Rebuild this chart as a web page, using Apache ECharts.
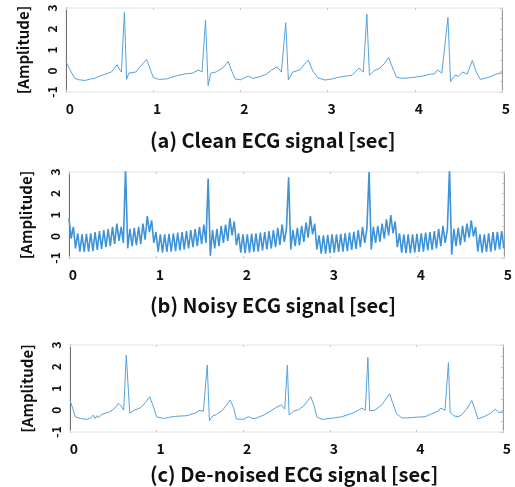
<!DOCTYPE html>
<html>
<head>
<meta charset="utf-8">
<script src="https://cdn.jsdelivr.net/npm/echarts@6/dist/echarts.min.js"></script>
<style>
  html, body { margin: 0; padding: 0; background: #fff; }
  #ecg_ref { width: 515px; height: 487px; }
</style>
</head>
<body>
<div id="ecg_ref"></div>
<script>
// 坐标轴刻度
const xTicks = [0, 1, 2, 3, 4, 5]
const yTicks = [-1, 0, 1, 2, 3]
const panelTitles = [
  '(a) Clean ECG signal [sec]',
  '(b) Noisy ECG signal [sec]',
  '(c) De-noised ECG signal [sec]'
]
const yName = '[Amplitude]'

// (a) clean signal, [time, amplitude]
const cleanSignal = [
  [0, 0.45], [0.04, 0.1], [0.1, -0.35], [0.15, -0.42], [0.22, -0.45], [0.28, -0.38],
  [0.33, -0.35], [0.38, -0.25], [0.45, -0.15], [0.52, -0.05], [0.56, 0.15], [0.585, 0.3],
  [0.61, 0.1], [0.635, -0.05], [0.67, 2.8], [0.695, -0.4], [0.72, -0.1], [0.8, -0.05],
  [0.86, 0.25], [0.925, 0.55], [0.96, 0.15], [1.0, -0.3], [1.06, -0.4], [1.15, -0.38],
  [1.25, -0.25], [1.35, -0.15], [1.45, -0.1], [1.52, 0.05], [1.56, -0.05], [1.6, 2.43],
  [1.63, -0.7], [1.66, -0.1], [1.72, -0.05], [1.8, 0.15], [1.86, 0.45], [1.9, 0.0],
  [1.94, -0.38], [2.0, -0.42], [2.09, -0.24], [2.14, -0.35], [2.2, -0.3], [2.3, -0.15],
  [2.36, 0.05], [2.42, 0.2], [2.47, -0.05], [2.52, 2.3], [2.55, -0.43], [2.6, -0.05],
  [2.68, 0.05], [2.73, 0.3], [2.78, 0.52], [2.83, 0.0], [2.89, -0.33], [2.97, -0.43],
  [3.05, -0.38], [3.12, -0.3], [3.2, -0.25], [3.28, -0.2], [3.36, 0.14], [3.41, -0.05],
  [3.45, 2.71], [3.48, -0.2], [3.53, 0.0], [3.6, 0.14], [3.65, 0.35], [3.7, 0.65],
  [3.75, 0.1], [3.79, -0.29], [3.85, -0.35], [3.95, -0.32], [4.08, -0.25], [4.18, -0.15],
  [4.23, -0.13], [4.26, 0.05], [4.31, -0.1], [4.38, 2.55], [4.41, -0.5], [4.46, -0.2],
  [4.5, -0.25], [4.55, -0.05], [4.6, -0.15], [4.66, 0.5], [4.7, 0.0], [4.75, -0.4],
  [4.85, -0.3], [4.93, -0.15], [5.0, -0.08]
]

// (b) noisy signal, sampled every noisyStep seconds
const noisyStep = 0.025
const noisyValues = [
  0.85, -0.1, 0.45, -0.55, 0.15, -0.7, 0.1, -0.72, 0.12, -0.7,
  0.15, -0.68, 0.2, -0.62, 0.25, -0.58, 0.3, -0.5, 0.35, -0.45,
  0.45, -0.35, 0.6, -0.2, 0.45, -0.3, 3.15, -0.55, 0.35, -0.45,
  0.4, -0.4, 0.45, -0.35, 0.6, -0.15, 0.95, 0.2, 0.75, -0.3,
  0.2, -0.7, 0.1, -0.75, 0.1, -0.72, 0.12, -0.7, 0.15, -0.68,
  0.18, -0.65, 0.2, -0.6, 0.25, -0.55, 0.3, -0.5, 0.35, -0.45,
  0.45, -0.35, 0.55, -0.3, 2.7, -0.9, 0.3, -0.55, 0.35, -0.45,
  0.5, -0.3, 0.55, -0.2, 0.85, 0.05, 0.7, -0.4, 0.15, -0.75,
  0.1, -0.78, 0.1, -0.75, 0.12, -0.72, 0.15, -0.7, 0.18, -0.65,
  0.2, -0.6, 0.25, -0.55, 0.3, -0.5, 0.4, -0.4, 0.55, -0.25,
  0.35, 2.75, -0.6, 0.3, -0.45, 0.4, -0.4, 0.5, -0.25, 0.65,
  -0.05, 0.95, 0.1, 0.6, -0.6, 0.05, -0.8, 0.05, -0.8, 0.08,
  -0.78, 0.1, -0.75, 0.1, -0.72, 0.12, -0.7, 0.15, -0.68, 0.18,
  -0.62, 0.22, -0.58, 0.3, -0.5, 0.45, -0.3, 0.35, 3.0, -0.6,
  0.45, -0.3, 0.5, -0.25, 0.6, -0.1, 0.8, 0.05, 1.0, 0.15,
  0.7, -0.5, 0.15, -0.75, 0.1, -0.78, 0.1, -0.78, 0.1, -0.75,
  0.12, -0.72, 0.15, -0.7, 0.18, -0.65, 0.2, -0.62, 0.25, -0.55,
  0.35, -0.45, 0.5, -0.3, 0.3, 3.15, -0.85, 0.35, -0.45, 0.4,
  -0.4, 0.5, -0.25, 0.6, -0.05, 0.75, 0.0, 0.45, -0.7, 0.1,
  -0.75, 0.1, -0.72, 0.15, -0.7, 0.2, -0.65, 0.22, -0.6, 0.25,
  -0.55
]

// (c) de-noised signal, [time, amplitude]
const denoisedSignal = [
  [0, 0.47], [0.03, 0.1], [0.06, -0.3], [0.12, -0.38], [0.19, -0.42], [0.24, -0.35],
  [0.27, -0.22], [0.29, -0.38], [0.31, -0.25], [0.33, -0.35], [0.36, -0.2], [0.42, -0.12],
  [0.46, -0.07], [0.5, 0.05], [0.53, 0.15], [0.56, 0.32], [0.59, 0.2], [0.62, 0.0],
  [0.65, 2.54], [0.69, -0.13], [0.74, 0.0], [0.81, 0.1], [0.87, 0.35], [0.92, 0.62],
  [0.96, 0.2], [1.0, -0.3], [1.08, -0.38], [1.15, -0.32], [1.22, -0.28], [1.35, -0.25],
  [1.45, -0.12], [1.5, 0.0], [1.54, -0.05], [1.585, 2.08], [1.61, -0.48], [1.65, -0.25],
  [1.69, -0.2], [1.76, 0.0], [1.81, 0.25], [1.85, 0.47], [1.89, 0.1], [1.92, -0.4],
  [2.0, -0.42], [2.06, -0.3], [2.08, -0.25], [2.11, -0.38], [2.14, -0.38], [2.25, -0.2],
  [2.37, 0.1], [2.44, 0.25], [2.48, 0.05], [2.51, 2.08], [2.53, -0.22], [2.58, -0.05],
  [2.64, 0.03], [2.7, 0.2], [2.78, 0.62], [2.82, 0.2], [2.85, -0.3], [2.91, -0.42],
  [3.0, -0.38], [3.14, -0.3], [3.25, -0.15], [3.33, 0.0], [3.37, 0.1], [3.41, 0.0],
  [3.44, 2.43], [3.46, -0.02], [3.52, 0.0], [3.6, 0.25], [3.69, 0.75], [3.73, 0.3],
  [3.77, -0.15], [3.83, -0.35], [3.9, -0.35], [4.0, -0.32], [4.1, -0.3], [4.2, -0.12],
  [4.25, -0.05], [4.28, 0.1], [4.33, 0.0], [4.37, 2.19], [4.39, -0.1], [4.43, -0.25],
  [4.48, -0.3], [4.52, -0.22], [4.58, 0.05], [4.64, 0.45], [4.68, 0.0], [4.71, -0.4],
  [4.78, -0.3], [4.85, -0.15], [4.91, 0.05], [4.95, -0.1], [5.0, -0.08]
]

const noisySignal = noisyValues.map((v, i) => [i * noisyStep, v])

const FONT = '"Noto Sans CJK KR", "Noto Sans", sans-serif'
// 三个子图的位置 (像素)
const grids = [
  { left: 66, top: 8, width: 436, height: 84 },
  { left: 69, top: 172, width: 435, height: 86 },
  { left: 70, top: 345, width: 433, height: 87 }
]
const titleTops = [130, 295, 464]
const lineColors = ['#55a3dc', '#3d92d8', '#55a3dc']
const lineWidths = [1, 1.6, 1]
const seriesData = [cleanSignal, noisySignal, denoisedSignal]

const chartInstance = echarts.init(document.getElementById('ecg_ref'))

// 边框上的小刻度
const tickStyle = { show: true, inside: true, length: 2, lineStyle: { color: '#c8c8c8' } }

const option = {
  animation: false,
  title: panelTitles.map((text, i) => ({
    text: text,
    left: 150,
    top: titleTops[i],
    padding: 0,
    textStyle: { fontFamily: FONT, fontSize: 20, fontWeight: 'bold', color: '#111' }
  })),
  grid: grids.map(g => Object.assign({
    show: true,
    borderColor: '#e2e2e2',
    borderWidth: 1,
    backgroundColor: '#fff'
  }, g)),
  xAxis: [].concat(
    grids.map((g, i) => ({
      type: 'value',
      gridIndex: i,
      min: xTicks[0],
      max: xTicks[xTicks.length - 1],
      interval: 1,
      axisLine: { show: false, onZero: false },
      axisTick: tickStyle,
      splitLine: { show: false },
      axisLabel: {
        margin: 10,
        padding: [0, 0, 0, 8],
        fontFamily: FONT,
        fontSize: 14,
        fontWeight: 'bold',
        color: '#111'
      }
    })),
    // 顶部刻度
    grids.map((g, i) => ({
      type: 'value',
      gridIndex: i,
      position: 'top',
      min: xTicks[0],
      max: xTicks[xTicks.length - 1],
      interval: 1,
      axisLine: { show: false, onZero: false },
      axisTick: tickStyle,
      axisLabel: { show: false },
      splitLine: { show: false }
    }))
  ),
  yAxis: [].concat(
    grids.map((g, i) => ({
      type: 'value',
      gridIndex: i,
      min: yTicks[0],
      max: yTicks[yTicks.length - 1],
      interval: 1,
      name: yName,
      nameLocation: 'middle',
      nameRotate: 90,
      nameGap: 35,
      nameTextStyle: { fontFamily: FONT, fontSize: 15, fontWeight: 'bold', color: '#111' },
      axisLine: { show: true, onZero: false, lineStyle: { color: '#707070', width: 1 } },
      axisTick: { show: false },
      splitLine: { show: false },
      axisLabel: {
        rotate: 90,
        margin: 8,
        fontFamily: FONT,
        fontSize: 12,
        fontWeight: 'bold',
        color: '#111'
      }
    })),
    // 右侧边框
    grids.map((g, i) => ({
      type: 'value',
      gridIndex: i,
      position: 'right',
      min: yTicks[0],
      max: yTicks[yTicks.length - 1],
      interval: 0.5,
      axisLine: { show: true, onZero: false, lineStyle: { color: '#9a9a9a', width: 1 } },
      axisTick: tickStyle,
      axisLabel: { show: false },
      splitLine: { show: false }
    }))
  ),
  series: seriesData.map((data, i) => ({
    type: 'line',
    xAxisIndex: i,
    yAxisIndex: i,
    data: data,
    showSymbol: false,
    clip: true,
    lineStyle: { color: lineColors[i], width: lineWidths[i] }
  }))
}

chartInstance.setOption(option)
</script>
</body>
</html>
